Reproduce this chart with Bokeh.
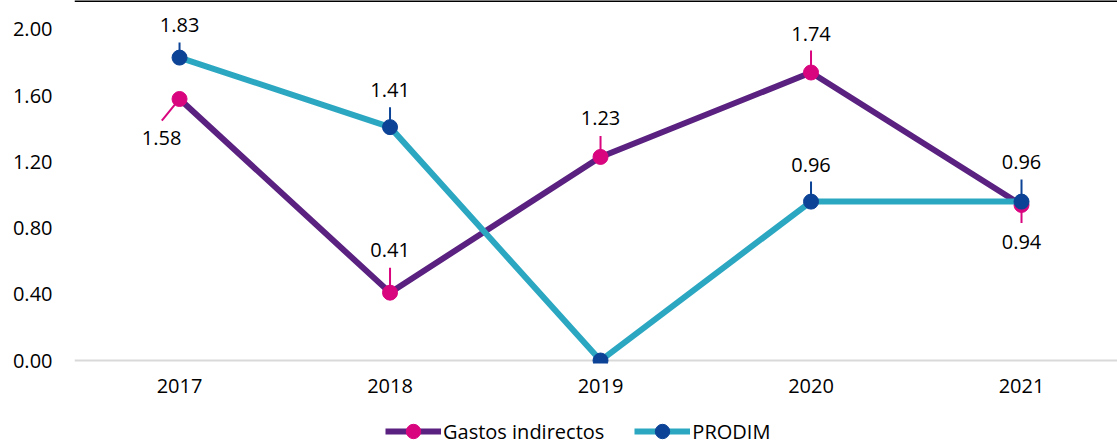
import math
from bokeh.plotting import figure
from bokeh.layouts import column
from bokeh.models import (Range1d, Span, Legend, LegendItem, ColumnDataSource,
                          FixedTicker, NumeralTickFormatter)
from bokeh.core.properties import value
from bokeh.embed import file_html
from bokeh.resources import INLINE

# ---------------- data ----------------
years = [2017, 2018, 2019, 2020, 2021]
gastos = [1.58, 0.41, 1.23, 1.74, 0.94]
prodim = [1.83, 1.41, 0.00, 0.96, 0.96]
gastos_labels = ["1.58", "0.41", "1.23", "1.74", "0.94"]
prodim_labels = ["1.83", "1.41", "", "0.96", "0.96"]
y_ticks = [0.0, 0.4, 0.8, 1.2, 1.6, 2.0]
series_names = ["Gastos indirectos", "PRODIM"]

# ---------------- label styling (screen px) ----------------
gastos_dx = [-18, 0, 0, 0, 0]
gastos_dy = [39, -43, -39, -39, 37]
gastos_lead = [28, 25, 21, 22, 18]
gastos_ang = [math.atan2(-22, -18), math.pi / 2, math.pi / 2, math.pi / 2, -math.pi / 2]
prodim_dx = [0, 0, 0, 0, 0]
prodim_dy = [-33, -37, 0, -37, -40]
prodim_lead = [15, 20, 0, 20, 22]
prodim_ang = [math.pi / 2] * 5

PURPLE = "#5A2181"
MAGENTA = "#D9057F"
TEAL = "#2BA7C2"
NAVY = "#0C4396"
FONT = "Open Sans"
FS = "20px"

Y0, Y1 = -0.018, 2.175
X0, X1 = 2016.501, 2021.456

p = figure(width=1117, height=405, output_backend="svg", toolbar_location=None,
           x_range=Range1d(X0, X1), y_range=Range1d(Y0, Y1),
           min_border_left=74, min_border_right=0, min_border_top=0,
           min_border_bottom=42)
p.outline_line_color = None
p.xgrid.visible = False
p.ygrid.visible = False
p.background_fill_color = "white"
p.border_fill_color = "white"

# axes
p.yaxis.ticker = FixedTicker(ticks=y_ticks)
p.yaxis.formatter = NumeralTickFormatter(format="0.00")
p.xaxis.ticker = FixedTicker(ticks=years)
for ax in (p.xaxis, p.yaxis):
    ax.axis_line_color = None
    ax.major_tick_line_color = None
    ax.minor_tick_line_color = None
    ax.major_label_text_font = FONT
    ax.major_label_text_font_size = FS
    ax.major_label_text_color = "#000000"
p.yaxis.major_label_standoff = 16
p.xaxis.major_label_standoff = 9

# zero line (under the data) and top border
p.add_layout(Span(location=0, dimension="width", line_color="#D9D9D9", line_width=2,
                  level="underlay"))
p.add_layout(Span(location=Y1, dimension="width", line_color="#000000", line_width=3))

def labeled(d):
    keep = [i for i, t in enumerate(d["t"]) if t != ""]
    return {k: [v[i] for i in keep] for k, v in d.items()}

gd = dict(x=years, y=gastos, t=gastos_labels, dx=gastos_dx, dy=gastos_dy,
          ln=gastos_lead, ang=gastos_ang)
pd_ = dict(x=years, y=prodim, t=prodim_labels, dx=prodim_dx, dy=prodim_dy,
           ln=prodim_lead, ang=prodim_ang)
src_g = ColumnDataSource(gd)
src_p = ColumnDataSource(pd_)
lab_g = ColumnDataSource(labeled(gd))
lab_p = ColumnDataSource(labeled(pd_))

# Gastos indirectos
p.line("x", "y", source=src_g, line_color=PURPLE, line_width=6)
p.ray(x="x", y="y", length="ln", length_units="screen", angle="ang", source=lab_g,
      line_color=MAGENTA, line_width=2)
p.scatter("x", "y", source=src_g, size=15, fill_color=MAGENTA, line_color=MAGENTA)
p.text(x="x", y="y", text="t", x_offset="dx", y_offset="dy", source=lab_g,
       text_align="center", text_baseline="middle", text_font=value(FONT),
       text_font_size=FS, text_color="#000000")

# PRODIM
p.line("x", "y", source=src_p, line_color=TEAL, line_width=6)
p.ray(x="x", y="y", length="ln", length_units="screen", angle="ang", source=lab_p,
      line_color=NAVY, line_width=2)
p.scatter("x", "y", source=src_p, size=15, fill_color=NAVY, line_color=NAVY)
p.text(x="x", y="y", text="t", x_offset="dx", y_offset="dy", source=lab_p,
       text_align="center", text_baseline="middle", text_font=value(FONT),
       text_font_size=FS, text_color="#000000")

# ---------------- legend strip ----------------
# same series drawn out of view (ranges 0..1) so only their legend glyphs show
q = figure(width=1117, height=40, output_backend="svg", toolbar_location=None,
           x_range=Range1d(0, 1), y_range=Range1d(0, 1),
           x_axis_location=None, y_axis_location=None,
           min_border_left=0, min_border_right=0, min_border_top=0,
           min_border_bottom=0)
q.outline_line_color = None
q.grid.visible = False
klg = q.line("x", "y", source=src_g, line_color=PURPLE, line_width=6)
kmg = q.scatter("x", "y", source=src_g, size=15, fill_color=MAGENTA, line_color=MAGENTA)
klp = q.line("x", "y", source=src_p, line_color=TEAL, line_width=6)
kmp = q.scatter("x", "y", source=src_p, size=15, fill_color=NAVY, line_color=NAVY)

legend = Legend(items=[LegendItem(label=series_names[0], renderers=[klg, kmg]),
                       LegendItem(label=series_names[1], renderers=[klp, kmp])],
                location=(311, -4), orientation="horizontal",
                glyph_width=56, glyph_height=36, label_standoff=2, spacing=30,
                padding=0, margin=0, border_line_color=None,
                background_fill_alpha=0,
                label_text_font=FONT, label_text_font_size=FS,
                label_text_color="#000000")
q.add_layout(legend, "center")

layout = column(p, q, spacing=0)
open("out.html", "w").write(file_html(layout, INLINE))
